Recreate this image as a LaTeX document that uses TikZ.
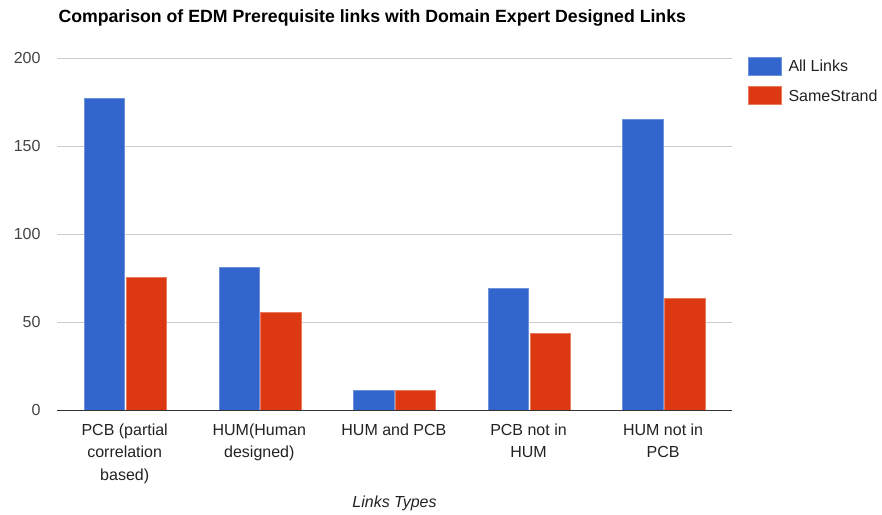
\documentclass[tikz,border=0pt]{standalone}
\usepackage{fontspec}
\setmainfont{Liberation Sans}
\definecolor{gblue}{HTML}{3366CC}
\definecolor{gred}{HTML}{DC3912}
\definecolor{gblueedge}{HTML}{6F92DD}
\definecolor{grededge}{HTML}{EA7A5E}
\definecolor{grid}{HTML}{CCCCCC}
\definecolor{axisc}{HTML}{333333}
\definecolor{txt}{HTML}{444444}
\definecolor{cattxt}{HTML}{222222}
\begin{document}
\begin{tikzpicture}[x=1pt,y=1pt,
  bluebar/.style={fill=gblue,draw=gblueedge,line width=0.7pt},
  redbar/.style={fill=gred,draw=grededge,line width=0.7pt},
  gridline/.style={draw=grid,line width=1.2pt},
  ylab/.style={anchor=east,text=txt,font=\fontsize{16}{18}\selectfont,inner sep=0pt},
  catlab/.style={anchor=north,align=center,text=cattxt,font=\fontsize{16}{22.5}\selectfont,inner sep=0pt},
  legtxt/.style={anchor=west,text=cattxt,font=\fontsize{16}{18}\selectfont,inner sep=0pt}]
\useasboundingbox (0,0) rectangle (882,514);
% baseline y = 514-410.3 = 103.7 ; 1 unit = 1.76pt
\def\base{103.7}
% gridlines
\foreach \v/\nm in {50/g50,100/g100,150/g150,200/g200}{
  \draw[gridline] (57.3,{\base+1.76*\v}) -- (731.7,{\base+1.76*\v});
  \node[ylab] (\nm) at (40.7,{\base+1.76*\v}) {\v};
}
\node[ylab] (g0) at (40.7,\base) {0};
% bars
\foreach \i/\a/\b in {0/177.4/75.6, 1/81.3/55.7, 2/11.4/11.4, 3/69.3/43.8, 4/165.3/63.6}{
  \pgfmathsetmacro{\xl}{84.3+134.6*\i}
  \draw[bluebar] (\xl,\base) rectangle ({\xl+40.4},{\base+1.76*\a});
  \draw[redbar] ({\xl+41.8},\base) rectangle ({\xl+82.2},{\base+1.76*\b});
}
% axis baseline
\draw[axisc,line width=1.2pt] (57.3,\base) -- (731.7,\base);
% category labels
\node[catlab] (c1) at (124.7,90.5) {PCB (partial\\correlation\\based)};
\node[catlab] (c2) at (259.3,90.5) {HUM(Human\\designed)};
\node[catlab] (c3) at (393.9,90.5) {HUM and PCB};
\node[catlab] (c4) at (528.5,90.5) {PCB not in\\HUM};
\node[catlab] (c5) at (663.1,90.5) {HUM not in\\PCB};
% axis title
\node[text=cattxt,font=\fontsize{16}{18}\selectfont\itshape,inner sep=0pt] (xt) at (394.5,10.5) {Links Types};
% chart title
\node[anchor=west,inner sep=0pt,font=\fontsize{17.7}{20}\selectfont\bfseries] (title) at (58.3,496) {Comparison of EDM Prerequisite links with Domain Expert Designed Links};
% legend
\draw[bluebar] (748.3,439) rectangle (781,456.7);
\draw[redbar] (748.3,409.7) rectangle (781,427.3);
\node[legtxt] (l1) at (788.3,447.8) {All Links};
\node[legtxt] (l2) at (788.3,418.5) {SameStrand};
\end{tikzpicture}
\end{document}
